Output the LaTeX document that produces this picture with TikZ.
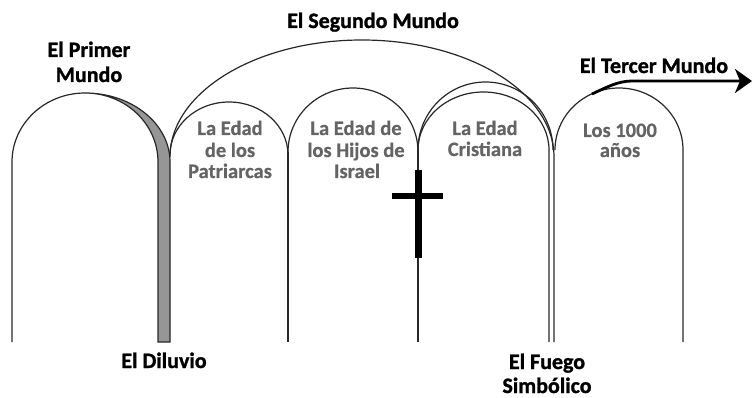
\documentclass[tikz,border=0pt]{standalone}
\usepackage{fontspec}
\setmainfont{Carlito}
\newfontfamily\heavyfont{Carlito}[UprightFont={* Bold},FakeBold=1.2]
\newfontfamily\agefont{Carlito}[UprightFont={* Bold},FakeBold=0.6]
\usetikzlibrary{arrows.meta}
\definecolor{txtgray}{RGB}{100,100,100}
\definecolor{bandgray}{RGB}{150,150,150}
\definecolor{linec}{RGB}{40,40,40}
\begin{document}
\begin{tikzpicture}[x=1pt,y=-1pt,
  arcline/.style={draw=linec,line width=1.2pt},
  biglabel/.style={font=\heavyfont\fontsize{22}{24}\selectfont,text=black,inner sep=0pt,anchor=base},
  agelabel/.style={font=\agefont\fontsize{20.5}{21}\selectfont,text=txtgray,inner sep=0pt,anchor=base},
  crossbar/.style={draw=black}]
\useasboundingbox (0,0) rectangle (752,398);
\fill[white] (0,0) rectangle (752,398);

% gray band (El Diluvio)
\filldraw[fill=bandgray,draw=linec,line width=1.2pt]
  (158,342) -- (158,162) arc[start angle=360,end angle=270,x radius=73,y radius=69]
  arc[start angle=270,end angle=360,x radius=85,y radius=69] -- (170,342) -- cycle;
% first arch
\draw[arcline] (12,342) -- (12,162) arc[start angle=180,end angle=270,x radius=73,y radius=69];

% big arch (El Segundo Mundo)
\draw[arcline] (170,157) arc[start angle=180,end angle=360,x radius=192,y radius=117] -- (554,342);
% Patriarcas
\draw[arcline] (170,155) arc[start angle=180,end angle=360,x radius=59,y radius=53];
% Hijos de Israel
\draw[arcline] (288,152) arc[start angle=180,end angle=360,x radius=65,y radius=64];
\draw[arcline] (288,152) -- (288,342);
% Cristiana
\draw[arcline] (418,150) arc[start angle=180,end angle=360,x radius=65.5,y radius=58] -- (549,342);
\draw[arcline] (418,150) arc[start angle=180,end angle=360,x radius=67.5,y radius=68];
\draw[arcline] (418,150) -- (418,342);
% Los 1000 anos
\draw[arcline] (555,150) arc[start angle=180,end angle=360,x radius=64,y radius=62] -- (683,342);

% cross
\draw[crossbar,line width=7pt] (418,170) -- (418,258);
\draw[crossbar,line width=6pt] (392,196) -- (443,196);

% El Tercer Mundo arrow
\coordinate (tstart) at (592,94);
\coordinate (ttip) at (752,81);
\draw[line width=2.8pt,-{Stealth[length=17pt,width=24pt,inset=5pt]}]
  (tstart) .. controls (606.5,87.3) and (618,81) .. (632,81) -- (ttip);

% black labels
\node[biglabel] (prim1) at (89,57) {El Primer};
\node[biglabel] (prim2) at (89,82) {Mundo};
\node[biglabel] (seg) at (373,28) {El Segundo Mundo};
\node[biglabel] (ter) at (654,73) {El Tercer Mundo};
\node[biglabel] (dil) at (164,368) {El Diluvio};
\node[biglabel] (fue1) at (547,369) {El Fuego};
\node[biglabel] (fue2) at (547,393) {Simbólico};

% gray labels
\node[agelabel] (pa1) at (230,135) {La Edad};
\node[agelabel] (pa2) at (230,157) {de los};
\node[agelabel] (pa3) at (230,178) {Patriarcas};
\node[agelabel] (hi1) at (356,135) {La Edad de};
\node[agelabel] (hi2) at (356,157) {los Hijos de};
\node[agelabel] (hi3) at (357,178) {Israel};
\node[agelabel] (cr1) at (485,135) {La Edad};
\node[agelabel] (cr2) at (485,156) {Cristiana};
\node[agelabel] (mi1) at (620,137) {Los 1000};
\node[agelabel] (mi2) at (620,157) {años};
\end{tikzpicture}
\end{document}
